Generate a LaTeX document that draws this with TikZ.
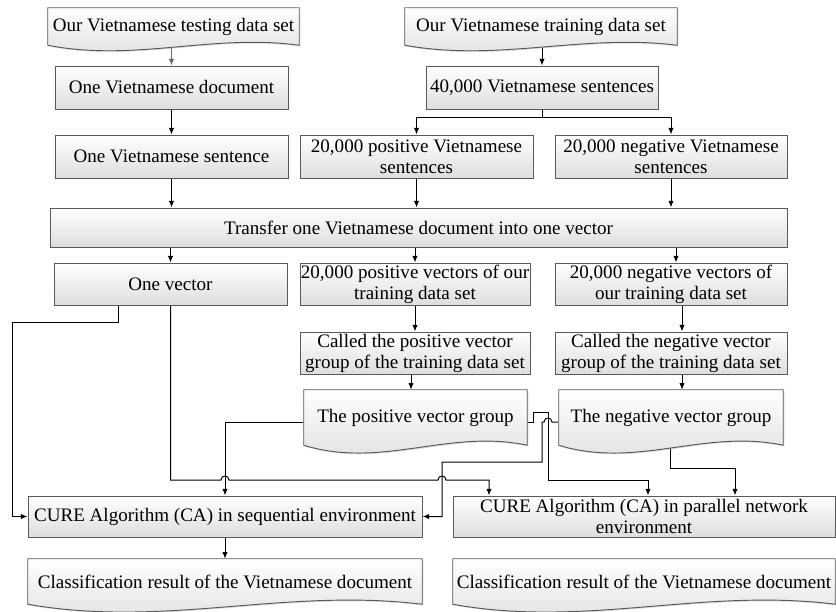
\documentclass[tikz,border=0pt]{standalone}
\usepackage{fontspec}
\setmainfont{Liberation Serif}
\usetikzlibrary{calc,shadows,arrows.meta}
\pgfdeclarelayer{lines}
\pgfdeclarelayer{shapes}
\pgfsetlayers{lines,shapes,main}
\tikzset{
  boxbase/.style={draw=black!65, line width=0.7pt, top color=white, bottom color=black!13,
    drop shadow={shadow xshift=0.9pt, shadow yshift=-0.9pt, fill=black!30}},
  txt/.style={inner sep=0pt, align=center, font=\fontsize{14.3}{15.8}\selectfont},
  pbox/.style={boxbase, txt},
  dtext/.style={txt, draw=none},
  docbox/.style={boxbase},
  conn/.style={line width=0.75pt, -{Latex[length=5pt,width=4pt]}},
  plain/.style={line width=0.75pt},
}
\newcommand{\bx}[7]{\node[#1, minimum width={(#5-#3)*0.75pt}, minimum height={(#6-#4)*0.75pt}] (#2) at ({(#3+#5)/2},{(#4+#6)/2}) {#7};}
\newcommand{\vdoc}[2]{%
  \begin{pgfonlayer}{shapes}
  \path[docbox] (#1.north west) -- (#1.south west)
    .. controls ($(#1.south west)!0.35!(#1.south east)+(0,#2)$) and ($(#1.south west)!0.65!(#1.south east)+(0,-0.7*#2)$) .. (#1.south east)
    -- (#1.north east) -- cycle;
  \end{pgfonlayer}}
\begin{document}
\begin{tikzpicture}[x=0.75pt,y=-0.75pt]
\useasboundingbox (0,0) rectangle (836,611);

% document shapes
\bx{dtext}{test}{48}{8}{299}{45}{Our Vietnamese testing data set}
\vdoc{test}{17}
\bx{dtext}{train}{405}{8}{677}{45}{Our Vietnamese training data set}
\vdoc{train}{17}

% boxes
\bx{pbox}{odoc}{55}{66}{288}{109}{One Vietnamese document}
\bx{pbox}{s40}{426}{66}{658}{109}{40,000 Vietnamese sentences}
\bx{pbox}{osent}{55}{135}{288}{178}{One Vietnamese sentence}
\bx{pbox}{pos20}{300}{135}{533}{178}{20,000 positive Vietnamese\\sentences}
\bx{pbox}{neg20}{555}{135}{787}{178}{20,000 negative Vietnamese\\sentences}
\bx{pbox}{transfer}{50}{208}{787}{247}{Transfer one Vietnamese document into one vector}
\bx{pbox}{ovec}{54}{263}{287}{305}{One vector}
\bx{pbox}{posv}{300}{263}{530}{305}{20,000 positive vectors of our\\training data set}
\bx{pbox}{negv}{555}{263}{787}{305}{20,000 negative vectors of\\our training data set}
\bx{pbox}{posc}{300}{332}{530}{374}{Called the positive vector\\group of the training data set}
\bx{pbox}{negc}{555}{332}{787}{374}{Called the negative vector\\group of the training data set}

\bx{dtext}{posg}{304}{390}{527}{445}{The positive vector group}
\vdoc{posg}{24}
\bx{dtext}{negg}{559}{390}{783}{445}{The negative vector group}
\vdoc{negg}{24}

\bx{pbox}{seq}{28}{496}{422}{537}{CURE Algorithm (CA) in sequential environment}
\bx{pbox}{par}{453}{496}{835}{537}{CURE Algorithm (CA) in parallel network\\environment}

\bx{dtext}{resL}{28}{559}{422}{604}{Classification result of the Vietnamese document}
\vdoc{resL}{24}
\bx{dtext}{resR}{453}{559}{835}{604}{Classification result of the Vietnamese document}
\vdoc{resR}{24}

% helper coordinates
\coordinate (split) at (542,117);
\coordinate (xA) at (676,0);
\coordinate (xB) at (682,0);
\coordinate (xC) at (411,0);
\coordinate (yG) at (0,422);
\coordinate (xS) at (225,0);
\coordinate (xV) at (118,0);
\coordinate (lft) at (12,322);
\coordinate (yH) at (0,480);
\coordinate (xN) at (442,0);
\coordinate (xP1) at (489,0);
\coordinate (b1) at (533,412);
\coordinate (b2) at (548,480);
\coordinate (xP2) at (648,0);
\coordinate (b3) at (542,422);
\coordinate (b4) at (442,462);
\coordinate (xR) at (670,0);
\coordinate (b5) at (670,468);
\coordinate (xP3) at (735,0);

\begin{pgfonlayer}{lines}
\draw[conn, draw=black!60] (odoc.north |- test.center) -- (odoc.north);
\draw[conn] (odoc.south) -- (osent.north);
\draw[conn] (osent.south) -- (osent.south |- transfer.north);
\draw[conn] (s40.north |- train.center) -- (s40.north);
\draw[plain] (s40.south) -- (split);
\draw[conn] (split) -| (pos20.north);
\draw[conn] (split) -| (neg20.north);
\draw[conn] (pos20.south) -- (pos20.south |- transfer.north);
\draw[conn] (neg20.south) -- (neg20.south |- transfer.north);
\draw[conn] (ovec.north |- transfer.south) -- (ovec.north);
\draw[conn] (posv.north |- transfer.south) -- (posv.north);
\draw[conn] (xA |- transfer.south) -- (xA |- negv.north);
\draw[conn] (posv.south) -- (posc.north);
\draw[conn] (xB |- negv.south) -- (xB |- negc.north);
\draw[conn] (xC |- posc.south) -- (xC |- posg.north);
\draw[conn] (xB |- negc.south) -- (xB |- negg.north);
\draw[conn] (posg.west |- yG) -| (xS |- seq.north);
\draw[conn] (xV |- ovec.south) |- (lft) |- (seq.west);
\draw[conn] (ovec.south) -- (ovec.south |- yH) -- ($(xS |- yH)+(-4,0)$)
  .. controls +(0,-5.3) and +(0,-5.3) .. ++(8,0)
  -- ($(xN |- yH)+(-4,0)$)
  .. controls +(0,-5.3) and +(0,-5.3) .. ++(8,0)
  -| (xP1 |- par.north);
\draw[conn] (posg.east |- yG) -| (b1) -| (b2) -| (xP2 |- par.north);
\draw[conn] (negg.west |- yG) -- ($(b2 |- yG)+(4,0)$)
  .. controls +(0,-5.3) and +(0,-5.3) .. ++(-8,0)
  -- (b3) |- (b4) |- (seq.east);
\draw[conn] (xR |- negg.center) -- (b5) -| (xP3 |- par.north);
\draw[conn] (seq.south) -- (resL.north);
\end{pgfonlayer}
\end{tikzpicture}
\end{document}
